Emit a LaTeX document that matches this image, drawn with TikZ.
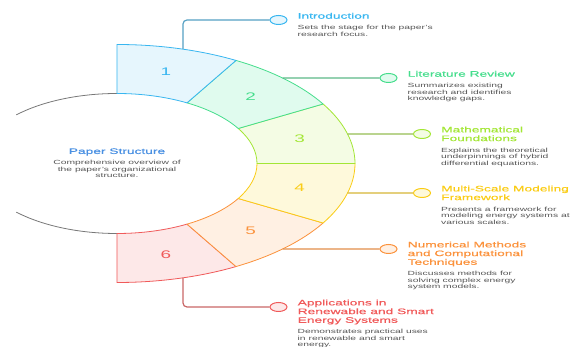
\documentclass[tikz,border=0pt]{standalone}
\usepackage{fontspec}
\setmainfont[FakeStretch=1.72]{Liberation Sans}
\newfontfamily\headfont[FakeStretch=1.72,FakeBold=0.6]{Liberation Sans}
\usepackage{xcolor}
\usepackage{tikz}
\usetikzlibrary{arrows,%
                shapes,positioning}
\usetikzlibrary{calc}
\definecolor{introline}{HTML}{38B6F0}
\definecolor{introfill}{HTML}{E6F6FD}
\definecolor{litline}{HTML}{45DD8C}
\definecolor{litfill}{HTML}{E0FBEE}
\definecolor{mathline}{HTML}{A3E635}
\definecolor{mathfill}{HTML}{F4FCE4}
\definecolor{msline}{HTML}{FACC15}
\definecolor{msfill}{HTML}{FEF9DB}
\definecolor{numline}{HTML}{FB923C}
\definecolor{numfill}{HTML}{FFF0E3}
\definecolor{appline}{HTML}{F05A5A}
\definecolor{appfill}{HTML}{FDE8E8}
\definecolor{paperblue}{HTML}{4A90E2}
\definecolor{descgray}{HTML}{555555}
\definecolor{innergray}{HTML}{777777}
\colorlet{introlink}{introline!60!gray}
\colorlet{litlink}{litline!60!gray}
\colorlet{mathlink}{mathline!60!gray}
\colorlet{mslink}{msline!70!gray}
\colorlet{numlink}{numline!80!gray}
\colorlet{applink}{appline!65!gray}

\begin{document}
\begin{tikzpicture}[x=1pt,y=1pt,xscale=2]
\tikzset{SegStyle/.style   = {line width=0.8pt, line join=round},
         NumStyle/.style   = {font=\fontsize{11}{13}\selectfont},
         MarkStyle/.style  = {shape=ellipse, minimum width=17pt,
                              minimum height=9pt, inner sep=0pt,
                              line width=1pt},
         LinkStyle/.style  = {line width=1.2pt, rounded corners=4pt},
         TitleStyle/.style = {anchor=north west, align=left, inner sep=0pt,
                              font=\headfont\fontsize{8}{8.7}\selectfont,
                              execute at begin node=\strut,
                              execute at end node=\strut},
         DescStyle/.style  = {align=left, inner sep=0pt, text=descgray,
                              font=\fontsize{6}{6.5}\selectfont,
                              execute at begin node=\strut}}
     \useasboundingbox (-58.5,-183.5) rectangle (229.5,163.5);

     % left part of the inner disk
     \draw[line width=0.8pt,innergray](90:70) arc[start angle=90, end angle=136, radius=70];
     \draw[line width=0.8pt,innergray](-90:70) arc[start angle=-90, end angle=-136, radius=70];

     % ring, bottom segment first so upper borders stay on top
     \filldraw[SegStyle,draw=appline,fill=appfill](-90:70) -- (-90:119) arc[start angle=-90, end angle=-60, radius=119] -- (-60:70) arc[start angle=-60, end angle=-90, radius=70] -- cycle;
     \filldraw[SegStyle,draw=numline,fill=numfill](-60:70) -- (-60:119) arc[start angle=-60, end angle=-30, radius=119] -- (-30:70) arc[start angle=-30, end angle=-60, radius=70] -- cycle;
     \filldraw[SegStyle,draw=msline,fill=msfill](-30:70) -- (-30:119) arc[start angle=-30, end angle=0, radius=119] -- (0:70) arc[start angle=0, end angle=-30, radius=70] -- cycle;
     \filldraw[SegStyle,draw=mathline,fill=mathfill](0:70) -- (0:119) arc[start angle=0, end angle=30, radius=119] -- (30:70) arc[start angle=30, end angle=0, radius=70] -- cycle;
     \filldraw[SegStyle,draw=litline,fill=litfill](30:70) -- (30:119) arc[start angle=30, end angle=60, radius=119] -- (60:70) arc[start angle=60, end angle=30, radius=70] -- cycle;
     \filldraw[SegStyle,draw=introline,fill=introfill](60:70) -- (60:119) arc[start angle=60, end angle=90, radius=119] -- (90:70) arc[start angle=90, end angle=60, radius=70] -- cycle;

     \node[NumStyle,text=introline](N1) at (75:94.5){1};
     \node[NumStyle,text=litline](N2) at (45:94.5){2};
     \node[NumStyle,text=mathline](N3) at (15:94.5){3};
     \node[NumStyle,text=msline](N4) at (-15:94.5){4};
     \node[NumStyle,text=numline](N5) at (-45:94.5){5};
     \node[NumStyle,text=appline](N6) at (-75:94.5){6};

     % centre
     \node[font=\headfont\fontsize{8}{9}\selectfont,text=paperblue](PS) at (0,11.5){Paper Structure};
     \node[DescStyle,align=center](PSD) at (0,-6.5){Comprehensive overview of\\the paper's organizational\\structure.};

     % markers and links
     \node[MarkStyle,draw=introline,fill=introfill](M1) at (80.75,143.5){};
     \node[MarkStyle,draw=litline,fill=litfill](M2) at (135.75,85.5){};
     \node[MarkStyle,draw=mathline,fill=mathfill](M3) at (152.5,29.5){};
     \node[MarkStyle,draw=msline,fill=msfill](M4) at (152.5,-29.5){};
     \node[MarkStyle,draw=numline,fill=numfill](M5) at (135.75,-85.5){};
     \node[MarkStyle,draw=appline,fill=appfill](M6) at (80.75,-143.5){};

     \coordinate (S1) at (73.9:119);
     \coordinate (S2) at (45.9:119);
     \coordinate (S3) at (14.35:119);
     \coordinate (S4) at (-14.35:119);
     \coordinate (S5) at (-45.9:119);
     \coordinate (S6) at (-73.9:119);
     \draw[LinkStyle,draw=introlink](S1) |- (M1);
     \draw[LinkStyle,draw=litlink](S2) -- (M2);
     \draw[LinkStyle,draw=mathlink](S3) -- (M3);
     \draw[LinkStyle,draw=mslink](S4) -- (M4);
     \draw[LinkStyle,draw=numlink](S5) -- (M5);
     \draw[LinkStyle,draw=applink](S6) |- (M6);

     % titles and descriptions
     \node[TitleStyle,text=introline](T1) at ($(M1.east)+(5,7.6)$){Introduction};
     \node[DescStyle,below=3.8pt of T1.south west,anchor=north west](D1){Sets the stage for the paper's\\research focus.};
     \node[TitleStyle,text=litline](T2) at ($(M2.east)+(5,7.6)$){Literature Review};
     \node[DescStyle,below=3.8pt of T2.south west,anchor=north west](D2){Summarizes existing\\research and identifies\\knowledge gaps.};
     \node[TitleStyle,text=mathline](T3) at ($(M3.east)+(5,7.6)$){Mathematical\\Foundations};
     \node[DescStyle,below=3.8pt of T3.south west,anchor=north west](D3){Explains the theoretical\\underpinnings of hybrid\\differential equations.};
     \node[TitleStyle,text=msline](T4) at ($(M4.east)+(5,7.6)$){Multi-Scale Modeling\\Framework};
     \node[DescStyle,below=3.8pt of T4.south west,anchor=north west](D4){Presents a framework for\\modeling energy systems at\\various scales.};
     \node[TitleStyle,text=numline](T5) at ($(M5.east)+(5,7.6)$){Numerical Methods\\and Computational\\Techniques};
     \node[DescStyle,below=3.8pt of T5.south west,anchor=north west](D5){Discusses methods for\\solving complex energy\\system models.};
     \node[TitleStyle,text=appline](T6) at ($(M6.east)+(5,7.6)$){Applications in\\Renewable and Smart\\Energy Systems};
     \node[DescStyle,below=3.8pt of T6.south west,anchor=north west](D6){Demonstrates practical uses\\in renewable and smart\\energy.};

  \end{tikzpicture}
\end{document}
